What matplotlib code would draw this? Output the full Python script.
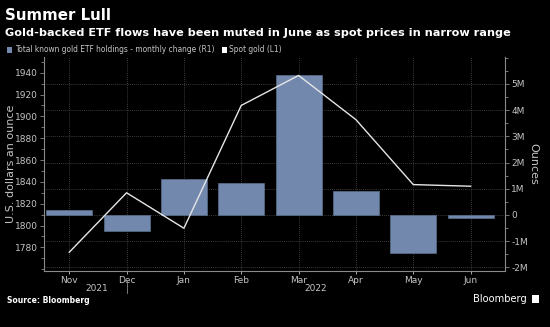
import numpy as np
import matplotlib
matplotlib.use("Agg")
import matplotlib.pyplot as plt
from matplotlib.patches import Patch, Rectangle
from matplotlib.ticker import FixedLocator, MultipleLocator, FuncFormatter

# --- Data ---
months = ["Nov", "Dec", "Jan", "Feb", "Mar", "Apr", "May", "Jun"]
spot_gold = [1775.5, 1830.0, 1797.5, 1910.0, 1937.5, 1897.0, 1837.5, 1836.0]   # USD/oz
etf_change = [0.19e6, -0.61e6, 1.37e6, 1.22e6, 5.34e6, 0.93e6, -1.46e6, -0.13e6]  # ounces
year_labels = ["2021", "2022"]

BG = "black"
BAR_C = "#7289ad"
LINE_C = "#e6e6e6"
TICK_C = "#c4c4c4"
SPINE_C = "#8a8a8a"
GRID_C = "#505050"

# axes box in pixels (from the reference)
L, R, T, B = 44, 505, 57, 270.7

fig = plt.figure(figsize=(5.5, 3.27), dpi=100, facecolor=BG)
ax = fig.add_axes([L / 550, 1 - B / 327, (R - L) / 550, (B - T) / 327])
ax2 = ax.twinx()

x = np.arange(len(months))

# bars on the right axis (drawn underneath)
ax2.bar(x, etf_change, width=0.8, color=BAR_C, edgecolor="#5a6e8c", linewidth=0.5, zorder=2)
ax2.set_ylim(-2.126e6, 6.03e6)
ax2.yaxis.set_major_locator(FixedLocator(np.arange(-2e6, 5.1e6, 1e6)))
ax2.yaxis.set_minor_locator(MultipleLocator(0.5e6))
ax2.yaxis.set_major_formatter(FuncFormatter(lambda v, p: "0" if abs(v) < 1 else f"{v/1e6:.0f}M"))
ax2.set_ylabel("Ounces", color=TICK_C, fontsize=8, rotation=270, va="center")
ax2.yaxis.set_label_coords((533 - L) / (R - L), 0.5)
ax2.grid(axis="y", color=GRID_C, linestyle=(0, (1, 1.5)), linewidth=0.6, zorder=0)
ax2.set_axisbelow(True)

# spot gold line on the left axis, on top of the bars
ax.plot(x, spot_gold, color=LINE_C, linewidth=1.0, zorder=5)
ax.set_zorder(ax2.get_zorder() + 1)
ax.patch.set_visible(False)
ax.set_ylim(1758.6, 1954.4)
ax.yaxis.set_major_locator(FixedLocator(np.arange(1780, 1941, 20)))
ax.yaxis.set_minor_locator(FixedLocator(np.arange(1760, 1951, 10)))
ax.set_ylabel("U.S. dollars an ounce", color=TICK_C, fontsize=8, va="center")
ax.yaxis.set_label_coords((11 - L) / (R - L), 0.5)

ax.set_xlim(-0.44, 7.6)
ax.set_xticks(x)
ax.set_xticklabels(months)
for xi in x:
    ax2.axvline(xi, color=GRID_C, linestyle=(0, (1, 1.5)), linewidth=0.6, zorder=0)

for a in (ax, ax2):
    a.set_facecolor(BG)
    for s in a.spines.values():
        s.set_visible(False)
    a.tick_params(colors=TICK_C, labelsize=6.5, length=3, width=0.6)
    a.tick_params(which="minor", colors=SPINE_C, length=2, width=0.6)
ax.spines["left"].set_visible(True)
ax.spines["left"].set_color(SPINE_C)
ax.spines["bottom"].set_visible(True)
ax.spines["bottom"].set_color(SPINE_C)
ax2.spines["right"].set_visible(True)
ax2.spines["right"].set_color(SPINE_C)
ax.tick_params(axis="x", length=2, pad=2)
ax.tick_params(axis="y", which="both", color=SPINE_C, pad=1.5)
ax2.tick_params(axis="y", which="both", color=SPINE_C, pad=1.5)

# year labels under the months, with separator
xt = ax.get_xaxis_transform()
ax.text(0.48, -0.06, year_labels[0], transform=xt, ha="center", va="top", color=TICK_C, fontsize=6.5)
ax.text(4.3, -0.06, year_labels[1], transform=xt, ha="center", va="top", color=TICK_C, fontsize=6.5)
ax.plot([1, 1], [-0.045, -0.105], transform=xt, color=SPINE_C, linewidth=0.6, clip_on=False)

# titles
fig.text(5 / 550, 1 - 16 / 327, "Summer Lull", color="white", fontsize=10.8, fontweight="bold",
         va="center", ha="left")
fig.text(5 / 550, 1 - 32.5 / 327,
         "Gold-backed ETF flows have been muted in June as spot prices in narrow range",
         color="white", fontsize=8.1, fontweight="bold", va="center", ha="left")

# legend
handles = [Patch(facecolor=BAR_C, edgecolor="none"), Patch(facecolor="white", edgecolor="none")]
fig.legend(handles, ["Total known gold ETF holdings - monthly change (R1)", "Spot gold (L1)"],
           loc="center left", bbox_to_anchor=(7 / 550, 1 - 50 / 327), ncol=2, frameon=False,
           fontsize=5.45, labelcolor=TICK_C, handlelength=0.7, handleheight=0.7,
           handletextpad=0.3, columnspacing=1.0, borderaxespad=0, borderpad=0)

# footer
fig.text(7 / 550, 1 - 300.7 / 327, "Source: Bloomberg", color="white", fontsize=5.5,
         fontweight="bold", va="center", ha="left")
fig.text(527 / 550, 1 - 299 / 327, "Bloomberg", color="white", fontsize=7.1,
         va="center", ha="right")
fig.patches.append(Rectangle((531.5 / 550, 1 - 303 / 327), 7.5 / 550, 8 / 327,
                             transform=fig.transFigure, facecolor="white", edgecolor="none"))

fig.savefig("out.png", dpi=100, facecolor=BG)
